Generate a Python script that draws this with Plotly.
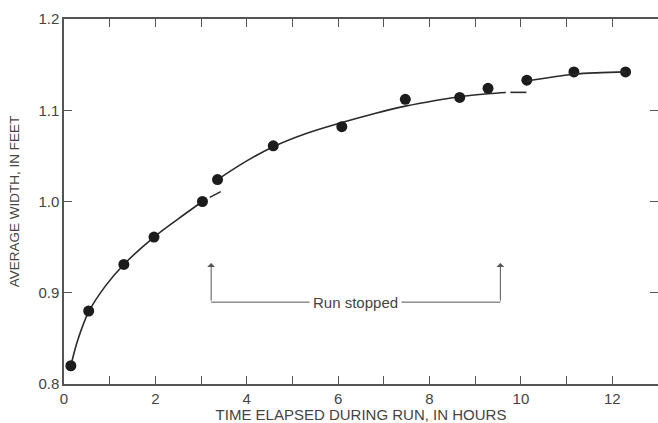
import plotly.graph_objects as go

# Measured average channel width during the run
hours = [0.15, 0.54, 1.31, 1.97, 3.03, 3.36, 4.58, 6.08, 7.47, 8.66, 9.28, 10.13, 11.16, 12.29]
width_ft = [0.820, 0.880, 0.931, 0.961, 1.000, 1.024, 1.061, 1.082, 1.112, 1.114, 1.124, 1.133, 1.142, 1.142]

# Fitted curve, drawn in pieces because the run was stopped twice
fit1_hours = [0.15, 0.30, 0.54, 0.90, 1.31, 1.97, 2.50, 3.03]
fit1_width = [0.820, 0.848, 0.879, 0.907, 0.931, 0.961, 0.981, 1.000]
dash1_hours = [3.19, 3.43]
dash1_width = [1.0045, 1.0108]

fit2_hours = [3.36, 4.00, 4.58, 5.30, 6.08, 6.80, 7.47, 8.10, 8.66, 9.28, 9.67]
fit2_width = [1.024, 1.0445, 1.060, 1.0745, 1.0865, 1.0965, 1.1045, 1.1105, 1.1148, 1.1180, 1.1195]
dash2_hours = [9.77, 10.12]
dash2_width = [1.1196, 1.1196]

fit3_hours = [10.13, 11.16, 12.29]
fit3_width = [1.132, 1.1395, 1.142]

# Times at which the run was stopped
stop_hours = [3.22, 9.55]
stop_arrow_tip = 0.9325
stop_bracket_level = 0.8897

x_ticks = list(range(0, 14))
x_tick_text = [str(v) if v % 2 == 0 and v <= 12 else "" for v in x_ticks]

INK = "#1c1c1c"
AXIS = "#555555"
TEXT = "#444444"
FONT = "Liberation Sans"

fig = go.Figure()

curve_style = dict(color="#2a2a2a", width=1.6, shape="spline", smoothing=1)
segments = [(fit1_hours, fit1_width), (dash1_hours, dash1_width),
            (fit2_hours, fit2_width), (dash2_hours, dash2_width),
            (fit3_hours, fit3_width)]
for i, (xs, ys) in enumerate(segments):
    fig.add_trace(go.Scatter(x=xs, y=ys, mode="lines", line=curve_style,
                             yaxis="y2" if i == len(segments) - 1 else "y",
                             hoverinfo="skip", showlegend=False))

fig.add_trace(go.Scatter(x=hours, y=width_ft, mode="markers",
                         marker=dict(size=11, color=INK), showlegend=False))

# "Run stopped" bracket with arrows
fig.add_shape(type="line", xref="x", yref="y",
              x0=stop_hours[0], x1=stop_hours[1],
              y0=stop_bracket_level, y1=stop_bracket_level,
              line=dict(color=AXIS, width=1))
for t in stop_hours:
    fig.add_annotation(x=t, y=stop_arrow_tip, ax=t, ay=stop_bracket_level,
                       xref="x", yref="y", axref="x", ayref="y",
                       text="", showarrow=True, arrowhead=1, arrowsize=1.3,
                       arrowwidth=1, arrowcolor=AXIS)
fig.add_annotation(x=sum(stop_hours) / 2, y=stop_bracket_level,
                   xref="x", yref="y", text="Run stopped", showarrow=False,
                   bgcolor="white", borderpad=3,
                   font=dict(family=FONT, size=15, color=TEXT))

tick_style = dict(ticks="inside", ticklen=8, tickwidth=1.2, tickcolor=AXIS,
                  showgrid=False, zeroline=False,
                  tickfont=dict(family=FONT, size=15, color=TEXT))

fig.update_layout(
    width=658, height=423,
    margin=dict(l=64, r=0, t=19, b=39),
    paper_bgcolor="white", plot_bgcolor="white",
    xaxis=dict(range=[0, 13], tickvals=x_ticks, ticktext=x_tick_text,
               showline=True, linecolor=AXIS, linewidth=1.5, mirror="ticks",
               title=dict(text="TIME ELAPSED DURING RUN, IN HOURS", standoff=2,
                          font=dict(family=FONT, size=15, color=TEXT)),
               **tick_style),
    yaxis=dict(range=[0.8, 1.2], dtick=0.1, tickformat=".1f",
               showline=True, linecolor=AXIS, linewidth=1.5,
               title=dict(text="AVERAGE WIDTH, IN FEET", standoff=16,
                          font=dict(family=FONT, size=13.5, color=TEXT)),
               **tick_style),
    # right-hand ticks only, no frame line on that side
    yaxis2=dict(range=[0.8, 1.2], dtick=0.1, overlaying="y", side="right",
                showline=False, showticklabels=False, **tick_style),
)

fig.write_html("out.html")
